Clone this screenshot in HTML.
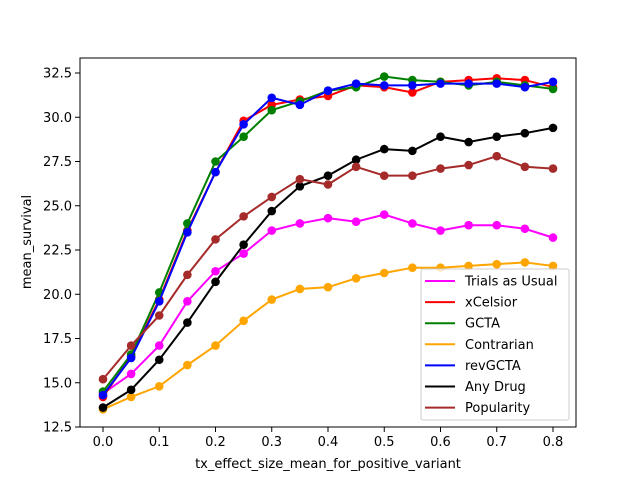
<!DOCTYPE html>
<html><head><meta charset="utf-8"><style>
body{margin:0;background:#fff}
svg{font-family:"DejaVu Sans","Liberation Sans",sans-serif}
</style></head><body>
<svg id="chart" width="640" height="480">
<rect x="0" y="0" width="640" height="480" fill="#fff"/>
<g id="marks"></g>
<rect x="80" y="58" width="496" height="369" fill="none" stroke="#000" stroke-width="1"/>
<g id="axes"></g>
<text x="328" y="468" font-size="13" text-anchor="middle">tx_effect_size_mean_for_positive_variant</text>
<text transform="translate(31,242) rotate(-90)" font-size="13" text-anchor="middle">mean_survival</text>
<g id="legend"></g>
</svg>
<script>
const xValues=[0,0.05,0.1,0.15,0.2,0.25,0.3,0.35,0.4,0.45,0.5,0.55,0.6,0.65,0.7,0.75,0.8];
const seriesNames=["Trials as Usual","xCelsior","GCTA","Contrarian","revGCTA","Any Drug","Popularity"];
const seriesColors=["magenta","red","green","orange","blue","black","brown"];
const trialsAsUsual=[14.4,15.5,17.1,19.6,21.3,22.3,23.6,24.0,24.3,24.1,24.5,24.0,23.6,23.9,23.9,23.7,23.2];
const xCelsior=[14.2,16.5,19.7,23.6,26.9,29.8,30.7,31.0,31.2,31.8,31.7,31.4,32.0,32.1,32.2,32.1,31.7];
const gcta=[14.5,16.6,20.1,24.0,27.5,28.9,30.4,30.9,31.5,31.7,32.3,32.1,32.0,31.8,32.0,31.8,31.6];
const contrarian=[13.5,14.2,14.8,16.0,17.1,18.5,19.7,20.3,20.4,20.9,21.2,21.5,21.5,21.6,21.7,21.8,21.6];
const revGcta=[14.3,16.4,19.6,23.5,26.9,29.6,31.1,30.7,31.5,31.9,31.8,31.8,31.9,31.9,31.9,31.7,32.0];
const anyDrug=[13.6,14.6,16.3,18.4,20.7,22.8,24.7,26.1,26.7,27.6,28.2,28.1,28.9,28.6,28.9,29.1,29.4];
const popularity=[15.2,17.1,18.8,21.1,23.1,24.4,25.5,26.5,26.2,27.2,26.7,26.7,27.1,27.3,27.8,27.2,27.1];
const xTicks=[0,0.1,0.2,0.3,0.4,0.5,0.6,0.7,0.8];
const yTicks=[12.5,15,17.5,20,22.5,25,27.5,30,32.5];
const allSeries=[trialsAsUsual,xCelsior,gcta,contrarian,revGcta,anyDrug,popularity];
const NS="http://www.w3.org/2000/svg";
function xs(v){return 103+v*562.5;}
function ys(v){return 427-(v-12.5)*17.7;}
function mk(t,a,p){const e=document.createElementNS(NS,t);for(const k in a)e.setAttribute(k,a[k]);p.appendChild(e);return e;}
const marks=document.getElementById('marks'),axes=document.getElementById('axes'),leg=document.getElementById('legend');
allSeries.forEach((s,i)=>{
 const g=mk('g',{},marks);
 
 
 const pl=mk('polyline',{points:s.map((v,j)=>xs(xValues[j])+','+ys(v)).join(' '),fill:'none',stroke:seriesColors[i],'stroke-width':2},g);
 
 
 s.forEach((v,j)=>{const c=mk('circle',{cx:xs(xValues[j]),cy:ys(v),r:4.3,fill:seriesColors[i]},g);
  
  });
});
xTicks.forEach(t=>{const x=xs(t);mk('line',{x1:x,x2:x,y1:427,y2:432,stroke:'#000'},axes);
 const tx=mk('text',{x:x,y:446,'font-size':13,'text-anchor':'middle'},axes);tx.textContent=t.toFixed(1);
 
 });
yTicks.forEach(t=>{const y=ys(t);mk('line',{x1:75,x2:80,y1:y,y2:y,stroke:'#000'},axes);
 const tx=mk('text',{x:72,y:y+4.5,'font-size':13,'text-anchor':'end'},axes);tx.textContent=t.toFixed(1);
 
 });
mk('rect',{x:421,y:269,width:148,height:151,rx:2,fill:'#fff','fill-opacity':0.8,stroke:'#ccc'},leg);
seriesNames.forEach((n,i)=>{const y=281+i*21.1;
 const g=mk('g',{},leg);
 
 
 mk('line',{x1:425,x2:455,y1:y,y2:y,stroke:seriesColors[i],'stroke-width':2},g);
 const t=mk('text',{x:465,y:y+4.5,'font-size':13},g);t.textContent=n;});
</script>
</body></html>
